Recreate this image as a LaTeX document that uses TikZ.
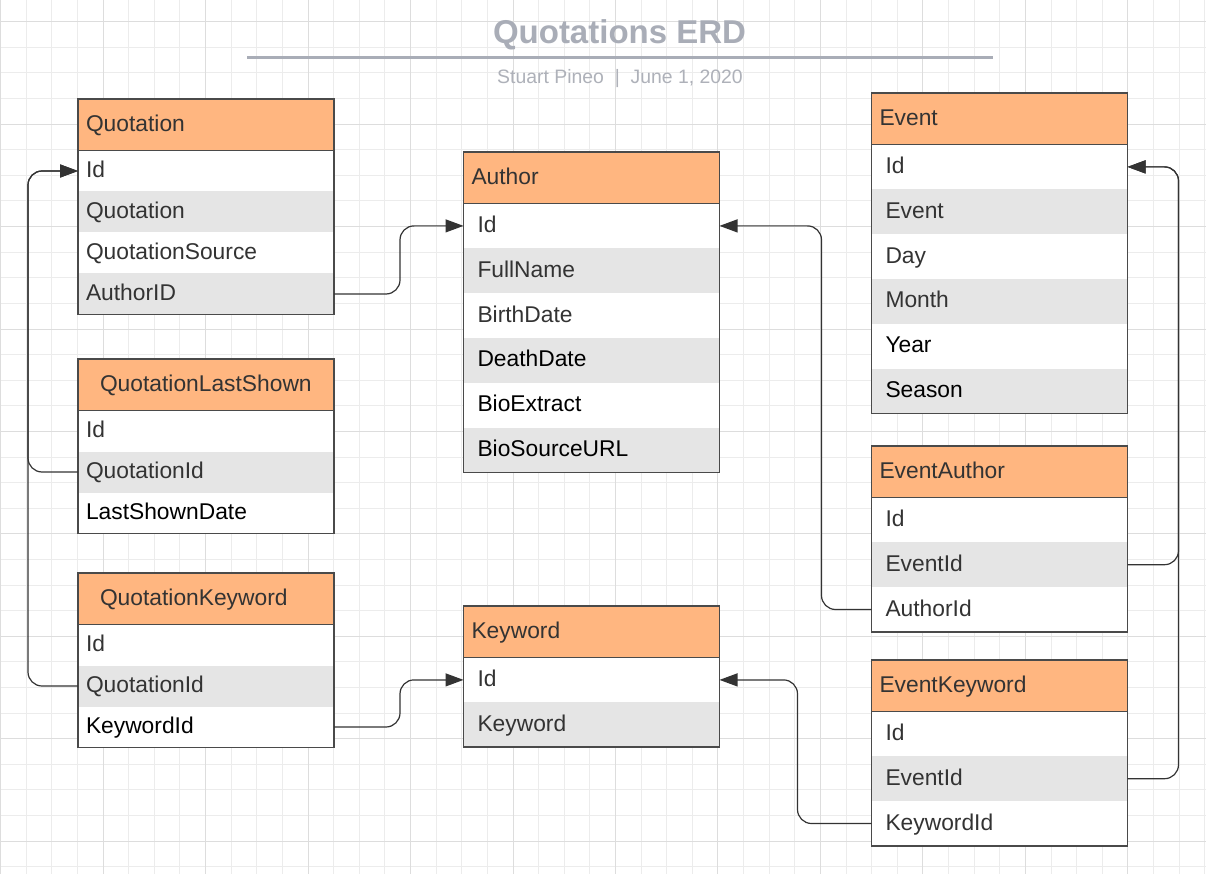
\documentclass[tikz,border=0pt]{standalone}
\usepackage{fontspec}
\setmainfont{Liberation Sans}
\usetikzlibrary{matrix,arrows.meta}

\definecolor{headfill}{HTML}{FFB680}
\definecolor{rowgray}{HTML}{E5E5E5}
\definecolor{ink}{HTML}{333333}
\definecolor{edge}{HTML}{4A4A4A}
\definecolor{titlegray}{HTML}{A9ADB7}
\definecolor{bylinegray}{HTML}{AEB1B9}
\definecolor{gridminor}{HTML}{ECECEC}
\definecolor{gridmajor}{HTML}{DDDDDD}

\newcommand\cellfont{\fontsize{22.8}{27}\selectfont}

\tikzset{
  erd/.style={matrix of nodes, inner sep=0pt, outer sep=0pt, row sep=0pt,
    anchor=north west, nodes={cell},
    row 1/.style={nodes={head}},
    row 3/.style={nodes={fill=rowgray}},
    row 5/.style={nodes={fill=rowgray}},
    row 7/.style={nodes={fill=rowgray}}},
  cell/.style={fill=white, text=ink, font=\cellfont, align=left,
    text width=240pt, inner xsep=8pt, inner ysep=0pt, outer sep=0pt,
    minimum height=41pt, text height=17pt, text depth=4pt},
  head/.style={fill=headfill, text width=240pt, inner xsep=8pt, minimum height=51.5pt},
  tall/.style={nodes={minimum height=44.8pt, text width=228pt, inner xsep=14pt}},
  indent/.style={text width=212pt, inner xsep=22pt},
  frame/.style={draw=edge, line width=1.5pt},
  link/.style={draw=ink, line width=1.2pt, rounded corners=14pt,
    -{Triangle[length=18pt,width=13pt]}},
  ttl/.style={anchor=base, text=titlegray, font=\bfseries\fontsize{33}{40}\selectfont},
  byline/.style={anchor=base, text=bylinegray, font=\fontsize{19.4}{23}\selectfont},
}

\begin{document}
\begin{tikzpicture}[x=1pt,y=-1pt]
  \useasboundingbox (0,0) rectangle (1206,874);
  \fill[white] (0,0) rectangle (1206,874);
  % background grid
  \foreach \i in {0,...,47}
    \draw[gridminor, line width=1pt] ({0.6+25.62*\i},0) -- ({0.6+25.62*\i},874);
  \foreach \j in {0,...,33}
    \draw[gridminor, line width=1pt] (0,{21.8+25.6*\j}) -- (1206,{21.8+25.6*\j});
  \foreach \i in {0,4,...,44}
    \draw[gridmajor, line width=1pt] ({0.6+25.62*\i},0) -- ({0.6+25.62*\i},874);
  \foreach \j in {0,4,...,32}
    \draw[gridmajor, line width=1pt] (0,{21.8+25.6*\j}) -- (1206,{21.8+25.6*\j});

  % title block
  \node[ttl] (title) at (619.5,44) {Quotations ERD};
  \draw[titlegray, line width=2.6pt] (247,57.5) -- (993,57.5);
  \node[byline] (byline) at (620,84) {Stuart Pineo\ \ |\ \ June 1, 2020};

  % tables
  \matrix (quot) [erd] at (78,99) {
    Quotation \\
    Id \\
    Quotation \\
    QuotationSource \\
    AuthorID \\
  };
  \matrix (qls) [erd] at (78,359) {
    |[indent]| QuotationLastShown \\
    Id \\
    QuotationId \\
    |[text=black]| LastShownDate \\
  };
  \matrix (qkw) [erd] at (78,573) {
    |[indent]| QuotationKeyword \\
    Id \\
    QuotationId \\
    |[text=black]| KeywordId \\
  };
  \matrix (auth) [erd, tall] at (463.5,152) {
    Author \\
    Id \\
    FullName \\
    BirthDate \\
    |[text=black]| DeathDate \\
    |[text=black]| BioExtract \\
    |[text=black]| BioSourceURL \\
  };
  \matrix (kw) [erd, tall] at (463.5,606) {
    Keyword \\
    Id \\
    Keyword \\
  };
  \matrix (ev) [erd, tall] at (871.5,93) {
    Event \\
    Id \\
    Event \\
    Day \\
    Month \\
    |[text=black]| Year \\
    |[text=black]| Season \\
  };
  \matrix (eva) [erd, tall] at (871.5,446) {
    EventAuthor \\
    Id \\
    EventId \\
    AuthorId \\
  };
  \matrix (evk) [erd, tall] at (871.5,660) {
    EventKeyword \\
    Id \\
    EventId \\
    KeywordId \\
  };

  \foreach \t in {quot,qls,qkw,auth,kw,ev,eva,evk}{
    \draw[frame] (\t.north west) rectangle (\t.south east);
    \draw[frame] (\t-1-1.south west) -- (\t-1-1.south east);
  }

  % relations
  \draw[link] (quot-5-1.east) -- ++(66,0) |- (auth-2-1.west);
  \draw[link] (qls-3-1.west) -- ++(-50,0) |- (quot-2-1.west);
  \draw[link] (qkw-3-1.west) -- ++(-50,0) |- (quot-2-1.west);
  \draw[link] (qkw-4-1.east) -- ++(66,0) |- (kw-2-1.west);
  \draw[link] (eva-4-1.west) -- ++(-50,0) |- (auth-2-1.east);
  \draw[link] (eva-3-1.east) -- ++(51,0) |- (ev-2-1.east);
  \draw[link] (evk-3-1.east) -- ++(51,0) |- (ev-2-1.east);
  \draw[link] (evk-4-1.west) -- ++(-74,0) |- (kw-2-1.east);
\end{tikzpicture}
\end{document}
